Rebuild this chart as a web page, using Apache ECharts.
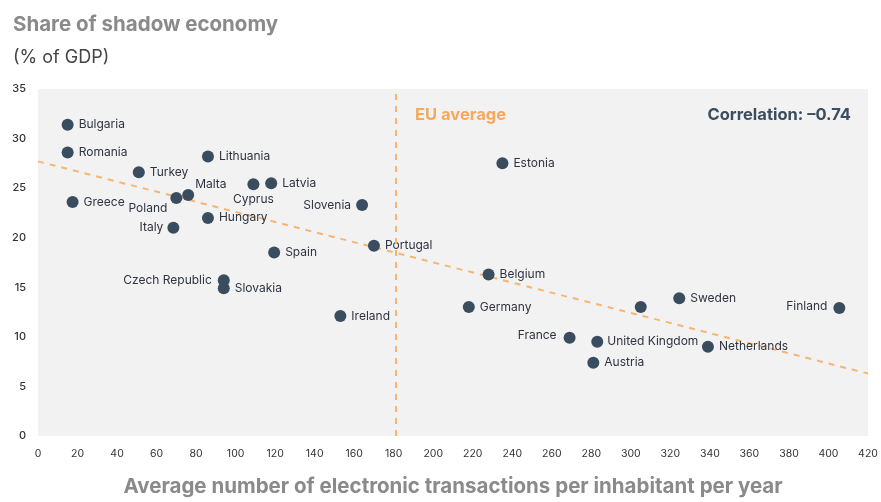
<!DOCTYPE html>
<html>
<head>
<meta charset="utf-8">
<script src="https://cdn.jsdelivr.net/npm/echarts@6/dist/echarts.min.js"></script>
<style>
  html, body { margin: 0; padding: 0; background: #fff; }
  #chart { width: 881px; height: 502px; }
</style>
</head>
<body>
<div id="chart"></div>
<script>
// country names, x = electronic transactions per inhabitant, y = shadow economy % of GDP
const countries = ['Bulgaria', 'Romania', 'Turkey', 'Lithuania', 'Malta', 'Poland', 'Greece', 'Hungary', 'Italy',
  'Cyprus', 'Latvia', 'Spain', 'Czech Republic', 'Slovakia', 'Slovenia', 'Portugal', 'Estonia', 'Ireland',
  'Belgium', 'Germany', '', 'Sweden', 'Finland', 'France', 'United Kingdom', 'Austria', 'Netherlands']
const transactions = [15, 15, 51, 86, 76, 70, 17.5, 86, 68.5,
  109, 118, 119.5, 94, 94, 164, 170, 235, 153,
  228, 218, 305, 324.5, 405.5, 269, 283, 281, 339]
const shadowShare = [31.4, 28.6, 26.6, 28.2, 24.3, 24.0, 23.6, 22.0, 21.0,
  25.4, 25.5, 18.5, 15.7, 14.9, 23.3, 19.2, 27.5, 12.1,
  16.3, 13.0, 13.0, 13.9, 12.9, 9.9, 9.5, 7.4, 9.0]
const trendX = [0, 420]
const trendY = [27.7, 6.3]
const euAverage = 181

const labelPlace = {
  'Malta': { position: 'right', distance: 1, offset: [0, -11] },
  'Poland': { position: 'left', distance: 3, offset: [0, 10] },
  'Italy': { position: 'left', distance: 4 },
  'Cyprus': { position: 'bottom', distance: 3 },
  'Czech Republic': { position: 'left', distance: 6 },
  'Slovenia': { position: 'left', distance: 5 },
  'France': { position: 'left', distance: 7, offset: [0, -2] },
  'Finland': { position: 'left', distance: 6, offset: [0, -2] },
  'United Kingdom': { position: 'right', distance: 4 }
}

const font = 'Inter, "Noto Sans", sans-serif'
const points = countries.map((name, i) => {
  const item = { name: name, value: [transactions[i], shadowShare[i]] }
  if (!name) item.label = { show: false }
  else if (labelPlace[name]) item.label = labelPlace[name]
  return item
})

const myChart = echarts.init(document.getElementById('chart'))
const option = {
  animation: false,
  textStyle: { fontFamily: font },
  title: [
    {
      text: 'Share of shadow economy',
      left: 8, top: 9,
      textStyle: { fontFamily: font, fontSize: 20.5, fontWeight: 'bold', color: '#8a8a8a' }
    },
    {
      text: '(% of GDP)',
      left: 8, top: 44,
      textStyle: { fontFamily: font, fontSize: 18, fontWeight: 'normal', color: '#444' }
    }
  ],
  graphic: [
    {
      type: 'text', left: 415, top: 107,
      style: { text: 'EU average', fill: '#f6a85c', font: 'bold 16.5px ' + font }
    },
    {
      type: 'text', right: 30, top: 107,
      style: { text: 'Correlation: –0.74', fill: '#3b4d5e', font: 'bold 16.5px ' + font }
    }
  ],
  grid: {
    left: 38, right: 13, top: 89, bottom: 62,
    show: true, backgroundColor: '#f2f2f2', borderWidth: 0
  },
  xAxis: {
    type: 'value', min: 0, max: 420, interval: 20,
    name: 'Average number of electronic transactions per inhabitant per year',
    nameLocation: 'middle', nameGap: 40,
    nameTextStyle: { fontFamily: font, fontSize: 20.5, fontWeight: 'bold', color: '#8a8a8a' },
    axisLine: { show: false }, axisTick: { show: false }, splitLine: { show: false },
    axisLabel: { color: '#333', fontSize: 10.5, margin: 12, fontFamily: font }
  },
  yAxis: {
    type: 'value', min: 0, max: 35, interval: 5,
    axisLine: { show: false }, axisTick: { show: false }, splitLine: { show: false },
    axisLabel: { color: '#333', fontSize: 11, margin: 12, fontWeight: 500, fontFamily: font }
  },
  series: [
    {
      type: 'line',
      data: trendX.map((x, i) => [x, trendY[i]]),
      symbol: 'none',
      lineStyle: { color: '#f7b574', width: 2, type: [6, 6] },
      silent: true,
      z: 1,
      markLine: {
        silent: true,
        symbol: 'none',
        label: { show: false },
        lineStyle: { color: '#f7b574', width: 2, type: [6, 6] },
        data: [{ xAxis: euAverage }]
      }
    },
    {
      type: 'scatter',
      data: points,
      symbolSize: 12,
      itemStyle: { color: '#3a4d5f', opacity: 1 },
      z: 3,
      label: {
        show: true,
        position: 'right',
        distance: 5,
        formatter: '{b}',
        color: '#2f3340',
        fontSize: 12,
        fontFamily: font
      }
    }
  ]
}
myChart.setOption(option)
</script>
</body>
</html>
